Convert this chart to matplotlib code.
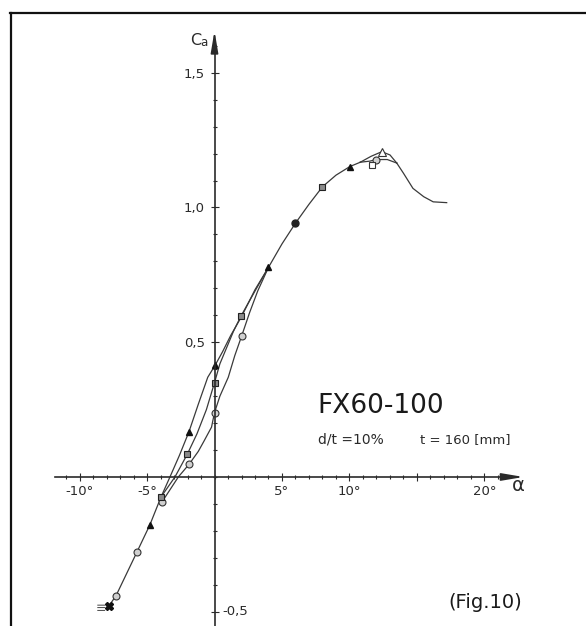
import numpy as np
import matplotlib
matplotlib.use("Agg")
import matplotlib.pyplot as plt
from matplotlib.lines import Line2D
from matplotlib import ticker

# measured points (alpha in degrees, Ca)
tri_a = [-4.79, -1.89, 0.05, 4.0, 10.03]
tri_ca = [-0.178, 0.168, 0.415, 0.778, 1.152]
tri_open_a = [12.39]
tri_open_ca = [1.207]
circ_a = [-7.29, -5.76, -3.88, -1.87, 0.0, 2.01, 12.0]
circ_ca = [-0.44, -0.28, -0.092, 0.048, 0.239, 0.523, 1.176]
circ_full_a = [6.0]
circ_full_ca = [0.942]
sq_a = [-3.96, -2.01, 0.0, 1.96, 8.0]
sq_ca = [-0.074, 0.085, 0.35, 0.597, 1.077]
sq_open_a = [11.7]
sq_open_ca = [1.158]
x_a = [-7.84]
x_ca = [-0.48]

# curves as drawn
low_a = [-7.84, -7.29, -5.76, -4.79, -3.96]
low_ca = [-0.48, -0.44, -0.28, -0.178, -0.074]
tri_line_a = [-3.96, -3.3, -2.6, -1.89, -1.2, -0.5, 0.05, 0.6, 1.2, 2.0, 3.0, 4.0]
tri_line_ca = [-0.074, 0.0, 0.08, 0.168, 0.27, 0.37, 0.415, 0.465, 0.525, 0.595, 0.695, 0.778]
sq_line_a = [-3.96, -2.93, -2.01, -1.3, -0.6, 0.0, 0.4, 0.9, 1.4, 1.96, 3.0, 4.0]
sq_line_ca = [-0.074, 0.0, 0.085, 0.16, 0.25, 0.35, 0.42, 0.48, 0.54, 0.597, 0.69, 0.778]
circ_line_a = [-3.88, -2.68, -1.87, -1.2, -0.78, -0.22, 0.0, 0.4, 1.02, 1.5, 2.01, 2.6, 3.2, 4.0]
circ_line_ca = [-0.092, 0.0, 0.048, 0.095, 0.133, 0.185, 0.239, 0.30, 0.37, 0.45, 0.523, 0.61, 0.69, 0.778]
up_a = [4.0, 5.0, 6.0, 7.0, 8.0, 9.0, 10.03, 10.8]
up_ca = [0.778, 0.865, 0.942, 1.012, 1.077, 1.12, 1.152, 1.168]
peak_hi_a = [10.8, 11.6, 12.39, 13.0, 13.5]
peak_hi_ca = [1.168, 1.19, 1.207, 1.195, 1.165]
peak_lo_a = [10.8, 11.5, 12.0, 12.8, 13.5]
peak_lo_ca = [1.168, 1.172, 1.178, 1.178, 1.165]
stall_a = [13.5, 14.0, 14.7, 15.5, 16.2, 17.2]
stall_ca = [1.165, 1.127, 1.071, 1.040, 1.021, 1.018]

x_major = [-10, -5, 5, 10, 15, 20]
x_labels = ['-10°', '-5°', '5°', '10°', '', '20°']
y_major = [-0.5, 0.5, 1.0, 1.5]

ink = '#2a2a2a'
fig = plt.figure(figsize=(5.86, 6.26), dpi=100)
ax = fig.add_axes([0, 0, 1, 1])
ax.set_xlim(-15.89, 27.52)
ax.set_ylim(-0.553, 1.770)

for s in ['top', 'right']:
    ax.spines[s].set_visible(False)
ax.spines['left'].set_position(('data', 0))
ax.spines['bottom'].set_position(('data', 0))
ax.spines['left'].set_bounds(-0.553, 1.60)
ax.spines['bottom'].set_bounds(-11.8, 22.0)
for s in ['left', 'bottom']:
    ax.spines[s].set_linewidth(1.2)
    ax.spines[s].set_color(ink)

ax.annotate('', xy=(23.1, 0), xytext=(21.5, 0),
            arrowprops=dict(arrowstyle='-|>,head_length=1.3,head_width=0.22',
                            color=ink, lw=1.2))
ax.annotate('', xy=(0, 1.666), xytext=(0, 1.58),
            arrowprops=dict(arrowstyle='-|>,head_length=1.3,head_width=0.22',
                            color=ink, lw=1.2))

ax.set_xticks(x_major, x_labels)
ax.set_xticks(np.arange(-11, 22), minor=True)
ax.set_yticks(y_major)
ax.set_yticks(np.arange(-0.5, 1.61, 0.1), minor=True)
ax.yaxis.set_major_formatter(ticker.FuncFormatter(
    lambda v, p: '' if v < 0 else f'{v:.1f}'.replace('.', ',')))
ax.tick_params(which='both', direction='inout', color=ink, width=0.8)
ax.tick_params(which='major', length=6)
ax.tick_params(which='minor', length=3)
ax.tick_params(axis='x', which='major', pad=3, labelsize=9.5, labelcolor=ink)
ax.tick_params(axis='y', which='major', pad=4, labelsize=9.5, labelcolor=ink)
ax.text(0.55, -0.5, '-0,5', fontsize=9.5, color=ink, ha='left', va='center')

ax.text(-1.0, 1.62, 'C', fontsize=11.5, color=ink, ha='right', va='center')
ax.text(-0.5, 1.612, 'a', fontsize=8.5, color=ink, ha='right', va='center')
ax.text(22.5, -0.03, 'α', fontsize=14, color=ink, ha='center', va='center')

lkw = dict(color='#3a3a3a', lw=0.9)
for xa, ya in [(low_a, low_ca), (tri_line_a, tri_line_ca), (sq_line_a, sq_line_ca),
               (circ_line_a, circ_line_ca), (up_a, up_ca), (peak_hi_a, peak_hi_ca),
               (peak_lo_a, peak_lo_ca), (stall_a, stall_ca)]:
    ax.plot(xa, ya, **lkw)

ax.plot(tri_a, tri_ca, '^', ms=5, color='#111', ls='none')
ax.plot(tri_open_a, tri_open_ca, '^', ms=5.5, mfc='white', mec='#333', mew=0.8, ls='none')
ax.plot(circ_a, circ_ca, 'o', ms=5, mfc='#d0d0d0', mec='#333', mew=0.8, ls='none')
ax.plot(circ_full_a, circ_full_ca, 'o', ms=5, color='#222', ls='none')
ax.plot(sq_a, sq_ca, 's', ms=4.8, mfc='#8a8a8a', mec='#222', mew=0.8, ls='none')
ax.plot(sq_open_a, sq_open_ca, 's', ms=5, mfc='white', mec='#333', mew=0.8, ls='none')
ax.plot(x_a, x_ca, 'X', ms=5.5, color='#111', ls='none')
ax.text(-8.05, -0.487, '≡', fontsize=9, color='#555', ha='right', va='center')

ax.text(7.6, 0.265, 'FX60-100', fontsize=19, color='#1a1a1a', ha='left', va='center')
ax.text(7.7, 0.138, 'd/t =10%', fontsize=10, color=ink, ha='left', va='center')
ax.text(15.2, 0.138, 't = 160 [mm]', fontsize=9.5, color=ink, ha='left', va='center')
ax.text(17.3, -0.465, '(Fig.10)', fontsize=14, color='#1a1a1a', ha='left', va='center')

fig.add_artist(Line2D([10 / 586, 1], [1 - 13 / 626] * 2, color='#111', lw=1.6))
fig.add_artist(Line2D([11 / 586] * 2, [0, 1 - 13 / 626], color='#111', lw=1.6))

fig.savefig('out.png', dpi=100, facecolor='white')
